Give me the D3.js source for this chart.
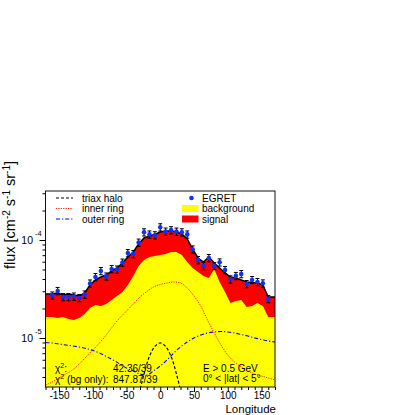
<!DOCTYPE html>
<html><head><meta charset="utf-8">
<script src="https://cdn.jsdelivr.net/npm/d3@7"></script>
<style>
body{margin:0;background:#fff}
svg{display:block}
text{font-family:"Liberation Sans",Arial,Helvetica,sans-serif;fill:#000}
</style>
</head><body>
<svg id="c" width="396" height="415"></svg>
<script>
// ---------- data (flux values in units of 1e-5 cm^-2 s^-1 sr^-1) ----------
const UNIT = 1e-5;
const lonBins = [-160,-152,-144,-136,-128,-120,-112,-104,-96,-88,-80,-72,-64,-56,-48,-40,-32,-24,-16,-8,0,8,16,24,32,40,48,56,64,72,80,88,96,104,112,120,128,136,144,152,160];
const egret = [2.72,3.02,2.62,2.62,2.65,2.56,2.78,3.60,4.19,4.83,4.25,5.06,5.00,5.89,7.36,7.19,9.42,12.0,11.4,11.2,13.5,12.2,12.6,12.2,12.0,11.4,8.03,6.25,5.43,6.55,5.43,5.92,4.94,3.97,4.30,4.50,3.56,3.91,3.73,3.61,2.50];
const egretErr = [0.23,0.26,0.22,0.22,0.23,0.22,0.24,0.31,0.36,0.41,0.36,0.43,0.43,0.50,0.63,0.61,0.80,1.02,0.97,0.95,1.15,1.04,1.07,1.04,1.02,0.97,0.68,0.53,0.46,0.56,0.46,0.50,0.42,0.34,0.37,0.38,0.30,0.33,0.32,0.31,0.21];
const totalFit = [2.81,2.88,2.75,2.81,2.75,2.68,2.88,3.47,3.91,4.19,4.39,4.83,5.18,5.83,6.71,7.55,9.10,10.48,10.99,11.38,12.07,12.35,12.35,12.07,11.51,10.24,8.09,6.55,5.96,6.71,5.83,5.18,4.61,4.19,4.09,3.91,3.73,3.69,3.64,3.47,2.62];
const background = [1.64,1.60,1.64,1.56,1.53,1.60,1.76,2.02,2.17,2.12,2.22,2.44,2.68,2.95,3.47,4.29,5.43,6.25,6.71,6.87,7.03,7.20,7.55,7.55,7.03,5.96,5.18,4.72,4.29,4.09,5.06,3.73,2.95,2.28,2.39,2.44,2.07,2.12,2.28,2.12,1.64];
const ringLon = [-170,-160,-150,-140,-130,-120,-110,-100,-90,-80,-70,-60,-50,-40,-30,-20,-10,0,10,20,30,40,50,60,70,80,90,100,110,120,130,140,150,160,170];
const innerRing = [0.331,0.356,0.391,0.429,0.472,0.543,0.640,0.755,0.889,1.073,1.326,1.60,1.886,2.223,2.62,2.98,3.314,3.52,3.64,3.73,3.64,3.24,2.68,2.12,1.526,1.125,0.848,0.671,0.569,0.506,0.461,0.429,0.409,0.391,0.373];
const outerRing = [0.900,0.889,0.869,0.848,0.829,0.809,0.781,0.746,0.703,0.648,0.596,0.543,0.494,0.461,0.429,0.419,0.461,0.518,0.596,0.703,0.809,0.910,1.000,1.073,1.125,1.151,1.165,1.151,1.125,1.086,1.048,1.000,0.965,0.932,0.910];
const haloLon = [-40,-32,-24,-16,-8,0,8,16,24,32,40];
const halo = [0.12,0.25,0.43,0.65,0.82,0.89,0.82,0.65,0.43,0.25,0.12];
const xTicks = [-150,-100,-50,0,50,100,150];
const xMinorTicks = [-170,-160,-140,-130,-120,-110,-90,-80,-70,-60,-40,-30,-20,-10,10,20,30,40,60,70,80,90,110,120,130,140,160,170];
const yMajor = [{v:1e-5, e:"-5"},{v:1e-4, e:"-4"}];
const yMinor = [4e-6,5e-6,6e-6,7e-6,8e-6,9e-6,2e-5,3e-5,4e-5,5e-5,6e-5,7e-5,8e-5,9e-5,2e-4,3e-4];
const legendLeft = ["triax halo","inner ring","outer ring"];
const legendRight = ["EGRET","background","signal"];

// ---------- layout ----------
const L = 45.5, R = 275, T = 191, B = 387;
const svg = d3.select('#c');
const x = d3.scaleLinear().domain([-170,170]).range([L,R]);
const y = d3.scaleLog().domain([Math.pow(10,-5.5), Math.pow(10,-3.5)]).range([B,T]);

svg.append('defs').append('clipPath').attr('id','clip')
  .append('rect').attr('x',L).attr('y',T).attr('width',R-L).attr('height',B-T);
const g = svg.append('g').attr('clip-path','url(#clip)');

// fit series extended flat to the frame edges
const [d0,d1] = x.domain();
const fit = [{l:d0,t:totalFit[0],b:background[0]}]
  .concat(lonBins.map((l,i)=>({l, t:totalFit[i], b:background[i]})))
  .concat([{l:d1,t:totalFit[totalFit.length-1],b:background[background.length-1]}]);

g.append('path').datum(fit).attr('fill','#ff0000')
  .attr('d', d3.area().x(d=>x(d.l)).y0(B).y1(d=>y(d.t*UNIT)));
g.append('path').datum(fit).attr('fill','#ffff00')
  .attr('d', d3.area().x(d=>x(d.l)).y0(B).y1(d=>y(d.b*UNIT)));

// component curves
const curveLine = d3.line().curve(d3.curveMonotoneX).x(d=>x(d[0])).y(d=>y(d[1]*UNIT));
g.append('path').datum(ringLon.map((l,i)=>[l,innerRing[i]]))
  .attr('fill','none').attr('stroke','#ff2200').attr('stroke-width',1)
  .attr('stroke-dasharray','1.2,1.2').attr('d',curveLine);
g.append('path').datum(ringLon.map((l,i)=>[l,outerRing[i]]))
  .attr('fill','none').attr('stroke','#0000ff').attr('stroke-width',1.1)
  .attr('stroke-dasharray','4,2,1.2,2').attr('d',curveLine);
g.append('path').datum(haloLon.map((l,i)=>[l,halo[i]]))
  .attr('fill','none').attr('stroke','#000').attr('stroke-width',1.2)
  .attr('stroke-dasharray','3,2').attr('d',d3.line().curve(d3.curveCatmullRom).x(d=>x(d[0])).y(d=>y(d[1]*UNIT)));

// total fit line
g.append('path').datum(fit).attr('fill','none').attr('stroke','#000').attr('stroke-width',1.5)
  .attr('d', d3.line().x(d=>x(d.l)).y(d=>y(d.t*UNIT)));

// EGRET points with error bars
const pts = g.append('g');
lonBins.forEach((l,i)=>{
  const cx = x(l), v = egret[i]*UNIT, e = egretErr[i]*UNIT;
  const y1 = y(v+e), y2 = y(v-e);
  pts.append('line').attr('x1',cx).attr('x2',cx).attr('y1',y1).attr('y2',y2).attr('stroke','#000').attr('stroke-width',1);
  pts.append('line').attr('x1',cx-2).attr('x2',cx+2).attr('y1',y1).attr('y2',y1).attr('stroke','#000').attr('stroke-width',1);
  pts.append('line').attr('x1',cx-2).attr('x2',cx+2).attr('y1',y2).attr('y2',y2).attr('stroke','#000').attr('stroke-width',1);
  pts.append('circle').attr('cx',cx).attr('cy',y(v)).attr('r',2.3).attr('fill','#1030ff');
});

// frame
svg.append('rect').attr('x',L).attr('y',T).attr('width',R-L).attr('height',B-T)
  .attr('fill','none').attr('stroke','#111').attr('stroke-width',1);

// x axis
const xa = svg.append('g').attr('transform',`translate(0,${B})`)
  .call(d3.axisBottom(x).tickValues(xTicks).tickSize(5).tickPadding(0).tickFormat(d=>String(d)));
xa.select('.domain').remove();
xa.selectAll('text').attr('font-size',10).attr('font-family','"Liberation Sans",Arial,sans-serif');
const xm = svg.append('g').attr('transform',`translate(0,${B})`)
  .call(d3.axisBottom(x).tickValues(xMinorTicks).tickSize(3).tickFormat(''));
xm.select('.domain').remove();

// y axis
const ya = svg.append('g').attr('transform',`translate(${L},0)`)
  .call(d3.axisLeft(y).tickValues(yMinor).tickSize(3).tickFormat(''));
ya.select('.domain').remove();
const yb = svg.append('g').attr('transform',`translate(${L},0)`)
  .call(d3.axisLeft(y).tickValues(yMajor.map(d=>d.v)).tickSize(6).tickFormat(''));
yb.select('.domain').remove();
yMajor.forEach(d=>{
  svg.append('text').attr('x',33).attr('y',y(d.v)+3.5).attr('text-anchor','end').attr('font-size',10.5).text('10');
  svg.append('text').attr('x',35).attr('y',y(d.v)-4).attr('font-size',7.5).text(d.e);
});

// axis titles
svg.append('text').attr('x',R+1).attr('y',412.5).attr('text-anchor','end').attr('font-size',11.5).text('Longitude');
const yt = svg.append('text').attr('transform','translate(15,215) rotate(-90)').attr('text-anchor','middle').attr('font-size',14.5);
yt.append('tspan').text('flux [cm');
yt.append('tspan').attr('dy',-5.5).attr('font-size',10).text('-2');
yt.append('tspan').attr('dy',5.5).text(' s');
yt.append('tspan').attr('dy',-5.5).attr('font-size',10).text('-1');
yt.append('tspan').attr('dy',5.5).text(' sr');
yt.append('tspan').attr('dy',-5.5).attr('font-size',10).text('-1');
yt.append('tspan').attr('dy',5.5).text(']');

// legend (left)
const legY = [198, 208.5, 219];
const legStyles = [
  {stroke:'#000', dash:'3,2', w:1.2},
  {stroke:'#ff2200', dash:'1.2,1.2', w:1},
  {stroke:'#0000ff', dash:'4,2,1.2,2', w:1.1}
];
legendLeft.forEach((t,i)=>{
  svg.append('line').attr('x1',56).attr('x2',73).attr('y1',legY[i]).attr('y2',legY[i])
    .attr('stroke',legStyles[i].stroke).attr('stroke-dasharray',legStyles[i].dash).attr('stroke-width',legStyles[i].w);
  svg.append('text').attr('x',82).attr('y',legY[i]+3.5).attr('font-size',10).text(t);
});
// legend (right)
svg.append('circle').attr('cx',191.5).attr('cy',legY[0]).attr('r',2.3).attr('fill','#1030ff');
svg.append('rect').attr('x',182).attr('y',legY[1]-3.5).attr('width',16.5).attr('height',7).attr('fill','#ffff00');
svg.append('rect').attr('x',182).attr('y',legY[2]-3.5).attr('width',16.5).attr('height',7).attr('fill','#ff0000');
legendRight.forEach((t,i)=>{
  svg.append('text').attr('x',202).attr('y',legY[i]+3.5).attr('font-size',10).text(t);
});

// annotations
const a1 = svg.append('text').attr('x',55).attr('y',372).attr('font-size',10);
a1.append('tspan').text('χ');
a1.append('tspan').attr('dy',-4).attr('font-size',7).text('2');
a1.append('tspan').attr('dy',4).text(':');
svg.append('text').attr('x',113).attr('y',372).attr('font-size',10).text('42.36/39');
const a2 = svg.append('text').attr('x',55).attr('y',382.5).attr('font-size',10);
a2.append('tspan').text('χ');
a2.append('tspan').attr('dy',-4).attr('font-size',7).text('2');
a2.append('tspan').attr('dy',4).text(' (bg only):');
svg.append('text').attr('x',113).attr('y',382.5).attr('font-size',10).text('847.87/39');
svg.append('text').attr('x',203).attr('y',371.5).attr('font-size',10).text('E > 0.5 GeV');
svg.append('text').attr('x',203).attr('y',382).attr('font-size',10).text('0° < |lat| < 5°');
</script>
</body></html>
